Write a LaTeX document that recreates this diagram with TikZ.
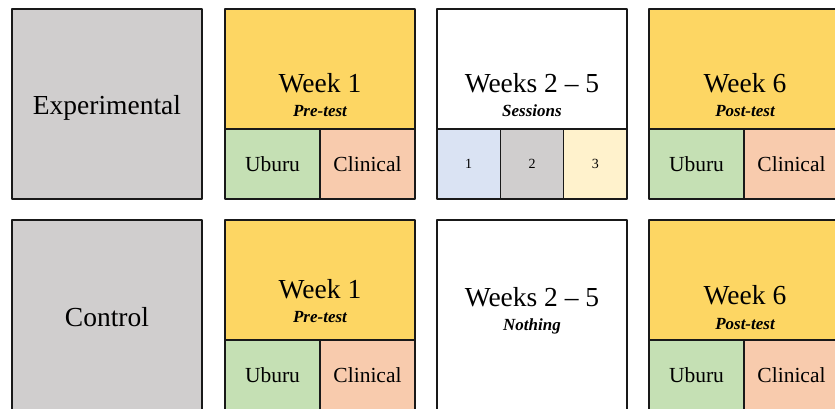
\documentclass[tikz,border=0pt]{standalone}
\usepackage{fontspec}
\setmainfont{Liberation Serif}
\definecolor{grp}{HTML}{D0CECE}
\definecolor{wk}{HTML}{FDD663}
\definecolor{ubu}{HTML}{C5E0B4}
\definecolor{cli}{HTML}{F8CBAD}
\definecolor{ses1}{HTML}{DAE3F3}
\definecolor{ses3}{HTML}{FFF2CC}
\begin{document}
\begin{tikzpicture}[x=1pt,y=-1pt,line join=round,
	cell/.style={draw=black!90,line width=1.6pt,anchor=north west,inner sep=0pt,outer sep=0pt},
	big/.style={font=\fontsize{27.5}{30}\selectfont,anchor=base},
	mid/.style={font=\fontsize{21.5}{24}\selectfont},
	sub/.style={font=\fontsize{17}{20}\selectfont\bfseries\itshape,anchor=base},
	num/.style={font=\fontsize{14}{16}\selectfont}]
	\useasboundingbox (0,0) rectangle (835,409);
	%% nhom, tuan 1, tuan 6
	\foreach \r/\y/\t/\yt/\ya/\yb/\yc/\yd in {e/9/Experimental/115/93/117/93/117, c/220/Control/326/298/322/304/329}{
		\node[cell,fill=grp,minimum width=190pt,minimum height=190pt] (\r0) at (12,\y) {};
		\node[big] (\r0t) at (107,\yt) {\t};
		% tuan 1
		\node[cell,fill=wk,minimum width=190pt,minimum height=120pt] (\r1) at (225,\y) {};
		\node[cell,fill=ubu,mid,minimum width=95pt,minimum height=70pt] (\r1u) at (225,\y+120) {Uburu};
		\node[cell,fill=cli,mid,minimum width=95pt,minimum height=70pt] (\r1c) at (320,\y+120) {Clinical};
		\node[big] (\r1w) at (320,\ya) {Week 1};
		\node[sub] (\r1p) at (320,\yb) {Pre-test};
		% tuan 6
		\node[cell,fill=wk,minimum width=190pt,minimum height=120pt] (\r6) at (649,\y) {};
		\node[cell,fill=ubu,mid,minimum width=95pt,minimum height=70pt] (\r6u) at (649,\y+120) {Uburu};
		\node[cell,fill=cli,mid,minimum width=95pt,minimum height=70pt] (\r6c) at (744,\y+120) {Clinical};
		\node[big] (\r6w) at (745,\yc) {Week 6};
		\node[sub] (\r6p) at (745,\yd) {Post-test};
	}
	%% tuan 2 - 5
	\node[cell,fill=white,minimum width=190pt,minimum height=120pt] (e2) at (437,9) {};
	\foreach \i/\c in {1/ses1,2/grp,3/ses3}
	\node[cell,fill=\c,num,minimum width=63.33pt,minimum height=70pt] (e2s\i) at ({437+63.33*(\i-1)},129) {\i};
	\node[big] (e2w) at (532,93) {Weeks 2 -- 5};
	\node[sub] (e2p) at (532,117) {Sessions};
	\node[cell,fill=white,minimum width=190pt,minimum height=190pt] (c2) at (437,220) {};
	\node[big] (c2w) at (532,306) {Weeks 2 -- 5};
	\node[sub] (c2p) at (532,330) {Nothing};
\end{tikzpicture}
\end{document}
